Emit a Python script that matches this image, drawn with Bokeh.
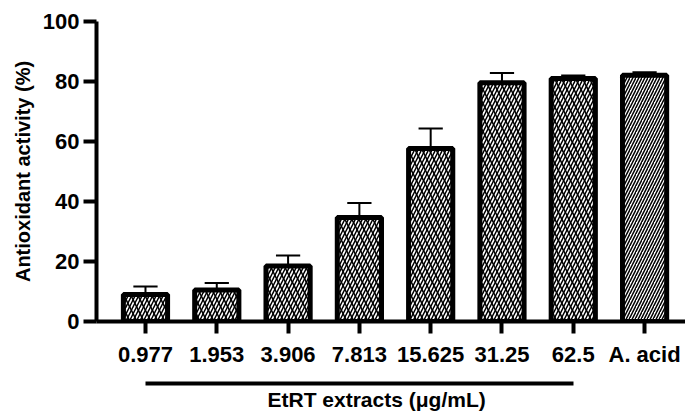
from bokeh.plotting import figure
from bokeh.models import (Range1d, FixedTicker, LinearAxis, Title, ColumnDataSource)
from bokeh.embed import file_html
from bokeh.resources import INLINE

categories = ["0.977", "1.953", "3.906", "7.813", "15.625", "31.25", "62.5", "A. acid"]
means = [9.0, 10.5, 18.5, 34.7, 57.7, 79.6, 81.0, 82.1]
errors = [2.7, 2.3, 3.5, 4.8, 6.6, 3.2, 1.0, 1.0]
y_ticks = [0, 20, 40, 60, 80, 100]
y_title = "Antioxidant activity (%)"
x_title = "EtRT extracts (μg/mL)"
n_extracts = 7

xs = list(range(len(categories)))
FONT = "Liberation Sans"

p = figure(width=685, height=412, output_backend="svg", toolbar_location=None,
           x_range=Range1d(-0.687, 7.574), y_range=Range1d(0, 100),
           min_border_left=96, min_border_right=0, min_border_top=21,
           min_border_bottom=90)
p.outline_line_color = None
p.xgrid.visible = False
p.ygrid.visible = False
p.background_fill_color = "white"
p.border_fill_color = "white"

# error bars (drawn first, stems hidden under bar outline)
upper = [m + e for m, e in zip(means, errors)]
cap_half = 0.17
p.segment(x0=xs, y0=means, x1=xs, y1=upper, line_color="black", line_width=2)
p.segment(x0=[x - cap_half for x in xs], y0=upper, x1=[x + cap_half for x in xs], y1=upper,
          line_color="black", line_width=2)

# extract bars: brick-like texture from two overlaid hatches
src_e = ColumnDataSource(dict(x=xs[:n_extracts], top=means[:n_extracts]))
p.vbar(x="x", top="top", bottom=0, width=0.62, source=src_e,
       fill_color="white", hatch_pattern="right_diagonal_line", hatch_color="black",
       hatch_scale=7, hatch_weight=1.5, line_color=None)
p.vbar(x="x", top="top", bottom=0, width=0.62, source=src_e,
       fill_color=None, hatch_pattern="left_diagonal_line", hatch_color="black",
       hatch_scale=14, hatch_weight=1.5, line_color="black", line_width=5)

# ascorbic acid bar: diagonal lines
src_a = ColumnDataSource(dict(x=xs[n_extracts:], top=means[n_extracts:]))
p.vbar(x="x", top="top", bottom=0, width=0.62, source=src_a,
       fill_color="white", hatch_pattern="right_diagonal_line", hatch_color="black",
       hatch_scale=6, hatch_weight=1.5, line_color="black", line_width=5)

# axes
for ax in (p.xaxis[0], p.yaxis[0]):
    ax.axis_line_width = 4
    ax.axis_line_color = "black"
    ax.major_tick_line_width = 4
    ax.major_tick_line_color = "black"
    ax.major_tick_in = 0
    ax.minor_tick_line_color = None
    ax.major_label_text_font = FONT
    ax.major_label_text_font_style = "bold"
    ax.major_label_text_font_size = "22px"
    ax.major_label_text_color = "black"

xa = p.xaxis[0]
xa.ticker = FixedTicker(ticks=xs)
xa.major_label_overrides = {i: c for i, c in enumerate(categories)}
xa.major_tick_out = 12
xa.major_label_standoff = 8
# invisible spacer label to push the grouping line down
xa.axis_label = "\u00a0"
xa.axis_label_text_font_size = "10px"
xa.axis_label_text_alpha = 0
xa.axis_label_standoff = 0

p.yaxis.ticker = FixedTicker(ticks=y_ticks)
p.yaxis.major_tick_out = 13
p.yaxis.major_label_standoff = 4
p.yaxis.axis_label = y_title
p.yaxis.axis_label_text_font = FONT
p.yaxis.axis_label_text_font_style = "bold"
p.yaxis.axis_label_text_font_size = "20px"
p.yaxis.axis_label_text_color = "black"
p.yaxis.axis_label_standoff = 6

# grouping line under the extract labels: bounded axis rule
group_axis = LinearAxis(bounds=(0, n_extracts - 1),
                        ticker=FixedTicker(ticks=[]), axis_line_width=4,
                        axis_line_color="black", major_tick_line_color=None,
                        minor_tick_line_color=None, major_label_standoff=0,
                        major_tick_out=0, minor_tick_out=0)
p.add_layout(group_axis, "below")

# group title
t = Title(text=x_title, align="left", offset=171, text_font=FONT,
          text_font_style="bold", text_font_size="21px", text_color="black",
          standoff=4)
p.add_layout(t, "below")

open("out.html", "w").write(file_html(p, INLINE))
